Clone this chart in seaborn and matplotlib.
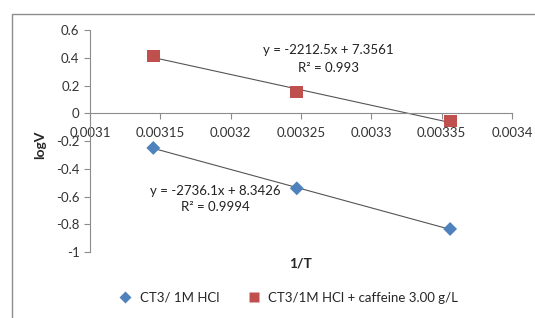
# Arrhenius plot: logV vs 1/T, with and without caffeine
import pandas as pd
from matplotlib import pyplot as plt
from matplotlib.patches import Rectangle
import seaborn as sns

# data
inv_t = [0.003145, 0.003247, 0.003356]
logv_blank = [-0.250, -0.541, -0.834]
logv_caffeine = [0.413, 0.153, -0.056]
series_names = ["CT3/ 1M HCl", "CT3/1M HCl + caffeine 3.00 g/L"]
x_ticks = [0.0031, 0.00315, 0.0032, 0.00325, 0.0033, 0.00335, 0.0034]
x_tick_labels = ["0.0031", "0.00315", "0.0032", "0.00325", "0.0033", "0.00335", "0.0034"]
y_ticks = [0.6, 0.4, 0.2, 0, -0.2, -0.4, -0.6, -0.8, -1]
y_tick_labels = ["0.6", "0.4", "0.2", "0", "-0.2", "-0.4", "-0.6", "-0.8", "-1"]

df = pd.DataFrame({
    "1/T": inv_t * 2,
    "logV": logv_blank + logv_caffeine,
    "series": [series_names[0]] * 3 + [series_names[1]] * 3,
})

sns.set_style("white")
plt.rcParams['font.family'] = ['Lato', 'DejaVu Sans']

blue = "#4F81BD"
red = "#C0504D"

fig = plt.figure(figsize=(5.35, 3.18), dpi=100)
ax = fig.add_axes([90 / 535, 1 - 252 / 318, (512 - 90) / 535, (252 - 30) / 318])

# outer chart border
fig.patches.append(Rectangle((12 / 535, -0.1), 1.2, 1 - 14 / 318 + 0.1,
                             transform=fig.transFigure, fill=False,
                             edgecolor="#8c8c8c", linewidth=1.0))

# trendlines
for vals in (logv_blank, logv_caffeine):
    sns.regplot(x=inv_t, y=vals, ax=ax, scatter=False, ci=None, truncate=True,
                line_kws={"color": "#555555", "linewidth": 0.8})

sns.scatterplot(data=df, x="1/T", y="logV", hue="series", style="series",
                size="series",
                sizes={series_names[0]: 50, series_names[1]: 85},
                markers={series_names[0]: "D", series_names[1]: "s"},
                palette={series_names[0]: blue, series_names[1]: red},
                edgecolor="none", ax=ax, legend=True, zorder=3)

ax.set_xlim(0.0031, 0.0034)
ax.set_ylim(-1, 0.6)
ax.set_xticks(x_ticks)
ax.set_xticklabels(x_tick_labels)
ax.set_yticks(y_ticks)
ax.set_yticklabels(y_tick_labels)

for side in ("top", "right"):
    ax.spines[side].set_visible(False)
ax.spines["bottom"].set_position(("data", 0))
for side in ("left", "bottom"):
    ax.spines[side].set_color("#8c8c8c")
    ax.spines[side].set_linewidth(0.8)
ax.tick_params(axis="both", which="both", direction="out", length=4,
               color="#8c8c8c", labelsize=9.5, labelcolor="#333333",
               left=True, bottom=True)
ax.tick_params(axis="x", pad=6)

ax.set_xlabel("")
ax.set_ylabel("")
fig.text(40 / 535, 1 - 145 / 318, "logV", rotation=90, fontsize=10,
         fontweight="bold", ha="center", va="center")
fig.text(301 / 535, 1 - 263 / 318, "1/T", fontsize=10, fontweight="bold",
         ha="center", va="center")

# equations
fig.text(328 / 535, 1 - 50 / 318, "y = -2212.5x + 7.3561", fontsize=9.5,
         ha="center", va="center", color="#222222")
fig.text(328 / 535, 1 - 68 / 318, "R² = 0.993", fontsize=9.5,
         ha="center", va="center", color="#222222")
fig.text(215 / 535, 1 - 191 / 318, "y = -2736.1x + 8.3426", fontsize=9.5,
         ha="center", va="center", color="#222222")
fig.text(215 / 535, 1 - 207 / 318, "R² = 0.9994", fontsize=9.5,
         ha="center", va="center", color="#222222")

handles, labels = ax.get_legend_handles_labels()
ax.get_legend().remove()
fig.legend(handles, labels, loc="center", bbox_to_anchor=(285 / 535, 1 - 298 / 318),
           ncol=2, frameon=False, fontsize=9.5, handletextpad=0.1,
           columnspacing=1.6, markerscale=0.85)

fig.savefig("out.png", dpi=100)
